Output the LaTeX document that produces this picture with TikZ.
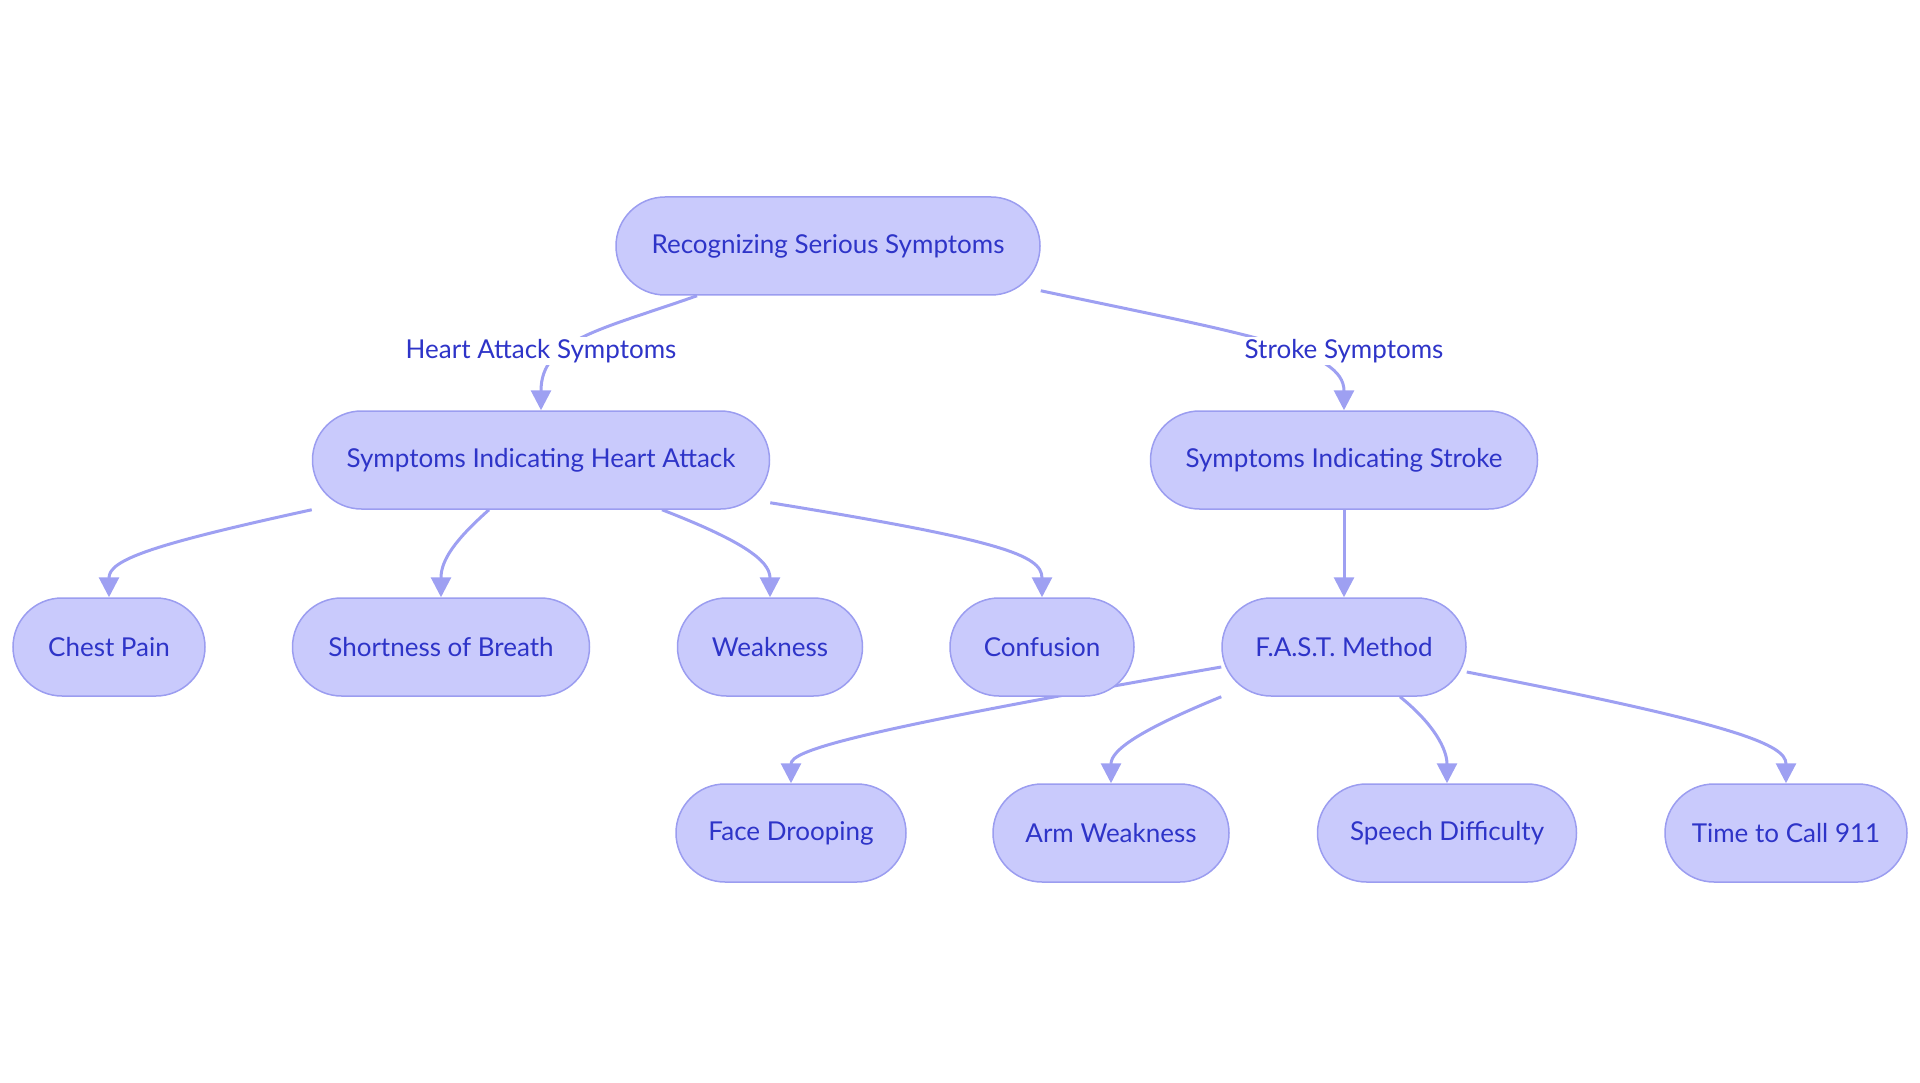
\documentclass[tikz,border=0pt]{standalone}
\usepackage{fontspec}
\setmainfont{Lato}
\usetikzlibrary{arrows.meta,backgrounds}
\definecolor{boxfill}{HTML}{C9CAFC}
\definecolor{boxline}{HTML}{9B9DF0}
\definecolor{ink}{HTML}{2E34C8}
\definecolor{edgeline}{HTML}{9EA0F2}
\begin{document}
\begin{tikzpicture}[x=1pt, y=-1pt]

\tikzstyle{box}=[draw=boxline, fill=boxfill, line width=1.5pt, rounded corners=49pt, minimum height=98pt, inner xsep=20pt, text=ink, font=\fontsize{26}{30}\selectfont];
\tikzstyle{lbl}=[fill=white, text=ink, inner sep=2pt, font=\fontsize{26}{30}\selectfont];
\tikzstyle{e}=[draw=edgeline, line width=3pt, -{Triangle[length=20pt, width=20pt]}];

\useasboundingbox (0, 0) rectangle (1920, 1083);

\node[box, minimum width=424pt] (root) at (828, 246) {Recognizing Serious Symptoms};

\node[box, minimum width=457pt] (heart) at (541, 460) {Symptoms Indicating Heart Attack};
\node[box, minimum width=387pt] (stroke) at (1344, 460) {Symptoms Indicating Stroke};

\node[box, minimum width=192pt] (chest) at (109, 647) {Chest Pain};
\node[box, minimum width=297pt] (breath) at (441, 647) {Shortness of Breath};
\node[box, minimum width=185pt] (weak) at (770, 647) {Weakness};
\node[box, minimum width=184pt] (confuse) at (1042, 647) {Confusion};
\node[box, minimum width=244pt] (fast) at (1344, 647) {F.A.S.T. Method};

\node[box, minimum width=230pt] (face) at (791, 833) {Face Drooping};
\node[box, minimum width=236pt] (arm) at (1111, 833) {Arm Weakness};
\node[box, minimum width=259pt] (speech) at (1447, 833) {Speech Difficulty};
\node[box, minimum width=242pt] (call) at (1786, 833) {Time to Call 911};

\node[lbl] (l_heart) at (541, 351) {Heart Attack Symptoms};
\node[lbl] (l_stroke) at (1344, 351) {Stroke Symptoms};

\begin{scope}[on background layer]
\draw[e] ([xshift=-131pt]root.south) .. controls (600, 330) and (541, 340) .. (heart.north);
\draw[e] ([yshift=5pt]root.south east) .. controls (1250, 335) and (1344, 350) .. (stroke.north);

\draw[e] (heart.south west) .. controls (150, 545) and (109, 560) .. (chest.north);
\draw[e] ([xshift=-52pt]heart.south) .. controls (455, 540) and (441, 560) .. (breath.north);
\draw[e] ([xshift=121pt]heart.south) .. controls (740, 540) and (770, 560) .. (weak.north);
\draw[e] ([yshift=7pt]heart.south east) .. controls (1000, 540) and (1042, 555) .. (confuse.north);

\draw[e] (stroke) -- (fast);

\draw[e] ([yshift=-20pt]fast.west) .. controls (860, 730) and (791, 750) .. (face.north);
\draw[e] (fast.south west) .. controls (1140, 730) and (1111, 750) .. (arm.north);
\draw[e] ([xshift=56pt]fast.south) .. controls (1435, 725) and (1447, 750) .. (speech.north);
\draw[e] ([yshift=-25pt]fast.east) .. controls (1740, 725) and (1786, 745) .. (call.north);
\end{scope}
\end{tikzpicture}
\end{document}
